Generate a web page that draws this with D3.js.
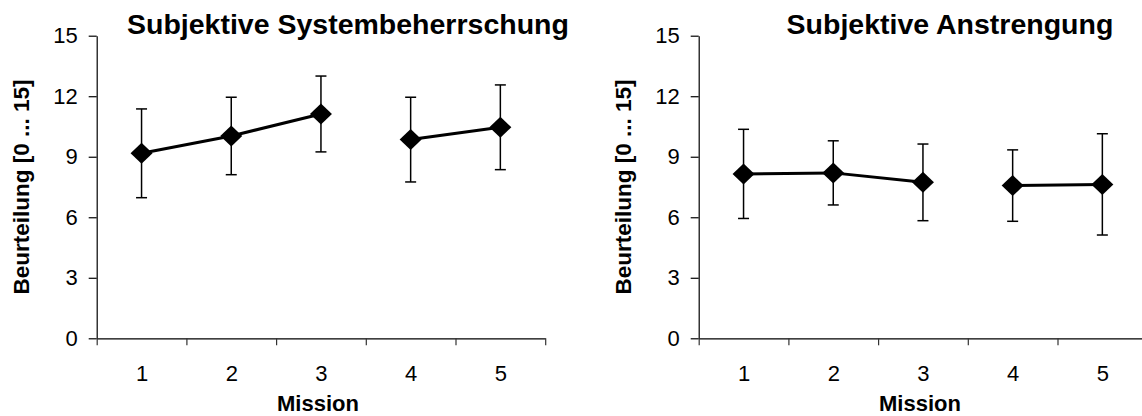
<!DOCTYPE html>
<html>
<head>
<meta charset="utf-8">
<script src="https://cdn.jsdelivr.net/npm/d3@7"></script>
<style>
  html, body { margin: 0; padding: 0; background: #fff; }
  svg { display: block; font-family: Arial, "Liberation Sans", sans-serif; }
  .tick text { font-size: 22px; fill: #000; font-family: Arial, "Liberation Sans", sans-serif; }
</style>
</head>
<body>
<svg id="chart" width="1142" height="416"></svg>
<script>
// Missions on the x axis
const missions = [1, 2, 3, 4, 5];
// Missions joined by a line (the gap between 3 and 4 is intentional)
const segments = [[1, 2, 3], [4, 5]];
// Rating scale ticks
const yTicks = [0, 3, 6, 9, 12, 15];

// Subjektive Systembeherrschung: means and standard deviations
const masteryMean = [9.17, 10.03, 11.12, 9.85, 10.46];
const masterySd   = [2.20, 1.92, 1.88, 2.10, 2.10];

// Subjektive Anstrengung: means and standard deviations
const effortMean = [8.15, 8.20, 7.73, 7.57, 7.63];
const effortSd   = [2.21, 1.59, 1.90, 1.77, 2.51];

const titles = ["Subjektive Systembeherrschung", "Subjektive Anstrengung"];
const yLabel = "Beurteilung [0 ... 15]";
const xLabel = "Mission";

const svg = d3.select("#chart");

function panel(left, title, means, sds) {
  const plotW = 448.5;
  const top = 35.7, bottom = 338.3;
  const g = svg.append("g");

  const x = d3.scaleLinear().domain([0.5, 5.5]).range([left, left + plotW]);
  const y = d3.scaleLinear().domain([0, 15]).range([bottom, top]);

  // y axis
  const yAxis = g.append("g")
    .attr("transform", `translate(${left},0)`)
    .call(d3.axisLeft(y).tickValues(yTicks).tickSize(8).tickPadding(11).tickSizeOuter(0));
  yAxis.attr("font-size", null).attr("font-family", null);
  yAxis.select(".domain").attr("stroke", "#000").attr("stroke-width", 1.2);
  yAxis.selectAll(".tick line").attr("stroke", "#000").attr("stroke-width", 1.2);

  // x axis: tick marks on category boundaries
  const xAxis = g.append("g")
    .attr("transform", `translate(0,${bottom})`)
    .call(d3.axisBottom(x).tickValues([0.5, 1.5, 2.5, 3.5, 4.5, 5.5])
      .tickFormat("").tickSize(7).tickSizeOuter(0));
  xAxis.select(".domain").attr("stroke", "#000").attr("stroke-width", 1.2);
  xAxis.selectAll(".tick line").attr("stroke", "#333").attr("stroke-width", 1.2);

  // x axis: category labels in the band centres
  const xLab = g.append("g")
    .attr("transform", `translate(0,${bottom})`)
    .call(d3.axisBottom(x).tickValues(missions).tickFormat(d3.format("d"))
      .tickSize(0).tickPadding(27));
  xLab.attr("font-size", null).attr("font-family", null);
  xLab.select(".domain").remove();

  const mid = left + plotW / 2;

  // title
  g.append("text")
    .attr("x", mid + 27).attr("y", 34)
    .attr("text-anchor", "middle")
    .style("font-size", "28.5px").attr("font-weight", "bold")
    .text(title);

  // axis titles
  g.append("text")
    .attr("x", mid - 3).attr("y", 411)
    .attr("text-anchor", "middle")
    .style("font-size", "22px").attr("font-weight", "bold")
    .text(xLabel);

  g.append("text")
    .attr("transform", `translate(${left - 67.5},${(top + bottom) / 2}) rotate(-90)`)
    .attr("text-anchor", "middle")
    .style("font-size", "22.5px").attr("font-weight", "bold")
    .text(yLabel);

  const pts = missions.map((m, i) => ({ m, v: means[i], sd: sds[i] }));

  // error bars (±1 SD)
  const capHalf = 5.5;
  const eb = g.append("g").attr("stroke", "#000").attr("stroke-width", 1.5);
  eb.selectAll("line.stem").data(pts).join("line").attr("class", "stem")
    .attr("x1", d => x(d.m)).attr("x2", d => x(d.m))
    .attr("y1", d => y(d.v + d.sd)).attr("y2", d => y(d.v - d.sd));
  eb.selectAll("line.capTop").data(pts).join("line").attr("class", "capTop")
    .attr("x1", d => x(d.m) - capHalf).attr("x2", d => x(d.m) + capHalf)
    .attr("y1", d => y(d.v + d.sd)).attr("y2", d => y(d.v + d.sd));
  eb.selectAll("line.capBot").data(pts).join("line").attr("class", "capBot")
    .attr("x1", d => x(d.m) - capHalf).attr("x2", d => x(d.m) + capHalf)
    .attr("y1", d => y(d.v - d.sd)).attr("y2", d => y(d.v - d.sd));

  // connecting lines
  const line = d3.line().x(d => x(d.m)).y(d => y(d.v));
  g.selectAll("path.seg").data(segments.map(s => s.map(m => pts[m - 1])))
    .join("path").attr("class", "seg")
    .attr("d", line).attr("fill", "none")
    .attr("stroke", "#000").attr("stroke-width", 3);

  // diamond markers
  const hw = 11, hh = 10.5;
  const diamond = `M0,${-hh}L${hw},0L0,${hh}L${-hw},0Z`;
  g.selectAll("path.mk").data(pts).join("path").attr("class", "mk")
    .attr("transform", d => `translate(${x(d.m)},${y(d.v)})`)
    .attr("d", diamond).attr("fill", "#000");
}

panel(96.7, titles[0], masteryMean, masterySd);
panel(698.7, titles[1], effortMean, effortSd);
</script>
</body>
</html>
